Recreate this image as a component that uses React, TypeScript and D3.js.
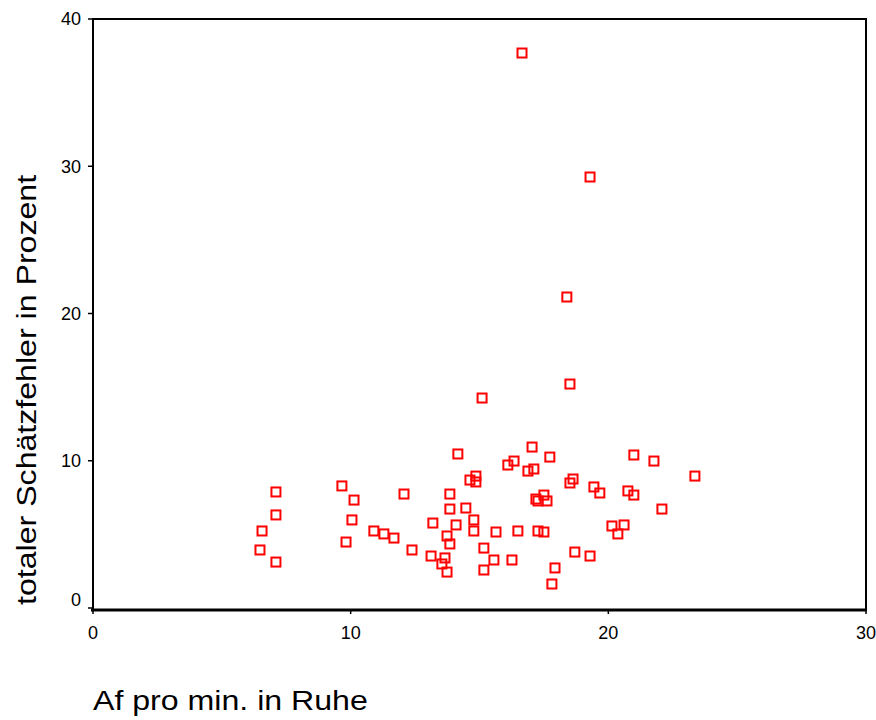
import React, { useEffect, useRef } from 'react'
import * as d3 from 'd3'

// Af pro min. in Ruhe
const afRuhe = [
  6.48, 6.56, 7.10, 7.10, 7.10, 9.66, 9.82, 10.13, 10.05, 10.90,
  11.29, 11.68, 12.07, 12.38, 13.19, 13.12, 13.54, 13.66, 13.74, 13.74,
  13.85, 13.85, 13.85, 14.09, 14.16, 14.47, 14.63, 14.78, 14.86, 14.86,
  14.78, 15.10, 15.17, 15.17, 15.56, 15.64, 16.10, 16.34, 16.26, 16.49,
  16.65, 16.88, 17.04, 17.11, 17.19, 17.27, 17.27, 17.50, 17.50, 17.62,
  17.73, 17.81, 17.93, 18.39, 18.51, 18.51, 18.63, 18.70, 19.29, 19.29,
  19.44, 19.67, 20.14, 20.37, 20.61, 20.76, 20.99, 20.99, 21.77, 22.08,
  23.36,
]

// totaler Schätzfehler in Prozent
const fehler = [
  3.94, 5.23, 7.88, 6.32, 3.12, 8.29, 4.48, 7.33, 5.98, 5.23,
  5.03, 4.75, 7.74, 3.94, 5.77, 3.53, 2.99, 3.40, 2.44, 4.89,
  4.35, 7.74, 6.72, 5.64, 10.46, 6.79, 8.69, 5.98, 8.96, 8.56,
  5.23, 14.26, 4.07, 2.58, 3.26, 5.16, 9.71, 9.98, 3.26, 5.23,
  37.69, 9.30, 10.93, 9.44, 7.40, 7.27, 5.23, 7.67, 5.16, 7.27,
  10.25, 1.63, 2.72, 21.12, 8.49, 15.21, 8.76, 3.80, 29.27, 3.53,
  8.22, 7.81, 5.57, 5.03, 5.64, 7.95, 10.39, 7.67, 9.98, 6.72,
  8.96,
]

const xTicks = [0, 10, 20, 30]
const yTicks = [0, 10, 20, 30, 40]

const xTitle = 'Af pro min. in Ruhe'
const yTitle = 'totaler Schätzfehler in Prozent'

const App = () => {
  const svgRef = useRef<SVGSVGElement>(null)

  useEffect(() => {
    const width = 876
    const height = 720
    const marginLeft = 93
    const marginRight = 10
    const marginTop = 19
    const y0 = 608
    const font = "'Liberation Sans', Arial, sans-serif"

    const x = d3.scaleLinear([0, 30], [marginLeft, width - marginRight])
    const y = d3.scaleLinear([0, 40], [y0, marginTop])

    const svg = d3.select(svgRef.current)
      .attr('width', width)
      .attr('height', height)
      .attr('viewBox', [0, 0, width, height].join(' '))
      .style('font-family', font)
    svg.selectAll('*').remove()

    svg.append('rect')
      .attr('width', width).attr('height', height).attr('fill', '#fff')

    // frame
    svg.append('rect')
      .attr('x', marginLeft).attr('y', marginTop)
      .attr('width', width - marginRight - marginLeft)
      .attr('height', 610 - marginTop)
      .attr('fill', 'none').attr('stroke', '#000').attr('stroke-width', 2)
    svg.append('line')
      .attr('x1', marginLeft - 2).attr('x2', width - marginRight + 1)
      .attr('y1', 610).attr('y2', 610)
      .attr('stroke', '#000').attr('stroke-width', 3)

    // y ticks
    const gy = svg.append('g')
    yTicks.forEach(t => {
      gy.append('line')
        .attr('x1', marginLeft - 5).attr('x2', marginLeft)
        .attr('y1', y(t)).attr('y2', y(t))
        .attr('stroke', '#000').attr('stroke-width', 1.5)
      gy.append('text')
        .attr('x', marginLeft - 12)
        .attr('y', Math.min(y(t), 600))
        .attr('dy', '0.35em')
        .attr('text-anchor', 'end')
        .attr('font-size', 18)
        .text(t)
    })

    // x ticks
    const gx = svg.append('g')
    xTicks.forEach(t => {
      gx.append('line')
        .attr('x1', x(t)).attr('x2', x(t))
        .attr('y1', 610).attr('y2', 614)
        .attr('stroke', '#000').attr('stroke-width', 1.5)
      gx.append('text')
        .attr('x', x(t))
        .attr('y', 639)
        .attr('text-anchor', 'middle')
        .attr('font-size', 18)
        .text(t)
    })

    // titles (the original font is set wider than Arial)
    svg.append('text')
      .attr('transform', `translate(${marginLeft},710) scale(1.19,1)`)
      .attr('font-size', 27)
      .text(xTitle)
    svg.append('text')
      .attr('transform', 'translate(36,605) rotate(-90) scale(1.19,1)')
      .attr('font-size', 27)
      .text(yTitle)

    // points
    const data = afRuhe.map((v, i) => ({ x: v, y: fehler[i] }))
    svg.append('g')
      .selectAll('rect')
      .data(data)
      .join('rect')
      .attr('x', d => x(d.x) - 4.5)
      .attr('y', d => y(d.y) - 4.5)
      .attr('width', 9)
      .attr('height', 9)
      .attr('fill', 'none')
      .attr('stroke', '#ff0000')
      .attr('stroke-width', 2)
  }, [])

  return (
    <svg ref={svgRef} style={{ position: 'absolute', left: 0, top: 0 }} />
  )
}

export default App
